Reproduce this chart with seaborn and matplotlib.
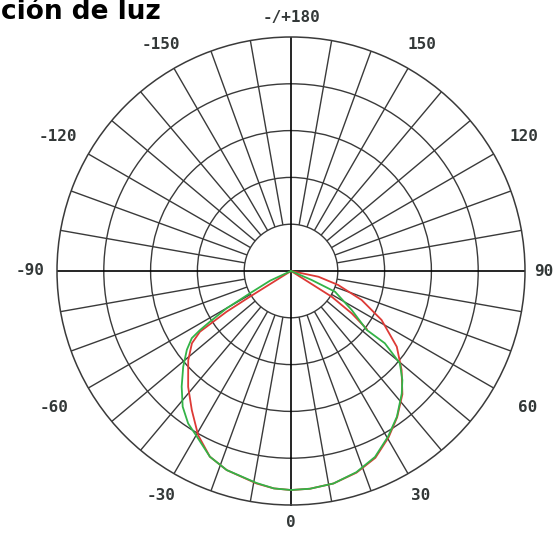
import numpy as np
import pandas as pd
import seaborn as sns
import matplotlib.pyplot as plt


sns.set_theme(style="white")

plt.rcParams["font.family"] = ["DejaVu Sans"]


# -----------------------------------
# Data (intensity, ring units 0..5)
# -----------------------------------

green_deg = [-66, -65.2, -61.5, -59.9, -58, -57, -55.9, -52.9, -48.4, -43.4,
             -38.6, -34, -29.6, -23.6, -17.9, -9.2, -4.5, 0, 5, 11.3, 18,
             24.3, 30.4, 36, 42.1, 45.6, 49.7, 52.4, 52.1, 57.3, 64.8, 66.5,
             68]
green_r = [0, 0.49, 1.0, 1.59, 2.04, 2.32, 2.56, 2.79, 3.08, 3.40,
           3.71, 3.93, 4.07, 4.33, 4.47, 4.59, 4.66, 4.68, 4.67, 4.63, 4.52,
           4.36, 4.10, 3.85, 3.53, 3.33, 3.05, 2.53, 2.05, 1.54, 1.04, 0.48,
           0]

red_deg = [-58.5, -58, -57.7, -56.3, -53.9, -49, -41.6, -35.5, -29.5, -23.6,
           -17.9, -9.2, -4.5, 0, 5, 11.3, 18, 24.3, 30.4, 36, 42.1, 48.2,
           54.4, 61.6, 67.7, 73.5, 78.2, 80]
red_r = [0, 1.03, 1.63, 2.34, 2.62, 2.91, 3.31, 3.65, 4.03, 4.33,
         4.47, 4.60, 4.66, 4.68, 4.67, 4.63, 4.53, 4.38, 4.12, 3.86, 3.55,
         3.17, 2.78, 2.20, 1.63, 1.05, 0.60, 0]

red_inner_deg = [59, 57.7, 55.1, 52.5]
red_inner_r = [0, 1.03, 1.58, 2.05]

ring_values = [1, 2, 3, 4]
r_max = 5

angle_labels = ["-/+180", "-150", "150", "-120", "120", "-90", "90",
                "-60", "60", "-30", "30", "0"]
angle_label_deg = [180, -150, 150, -120, 120, -90, 90, -60, 60, -30, 30, 0]

# label distance from centre (layout only)
label_dist = [5.41, 5.58, 5.58, 5.75, 5.75, 5.58, 5.41,
              5.85, 5.85, 5.55, 5.55, 5.38]


GRID = "#3a3a3a"
TXT = "#333838"

fig = plt.figure(figsize=(5.55, 5.33), dpi=100)

ax = fig.add_axes(
    [57 / 555, 28 / 533, 468 / 555, 468 / 533],
    projection="polar"
)

ax.set_theta_zero_location("S")
ax.set_theta_direction(1)
ax.set_ylim(0, r_max)

# rings
ax.set_xticks([])
ax.set_yticks(ring_values)
ax.set_yticklabels([])
ax.yaxis.grid(True, color=GRID, linewidth=1.0)
ax.spines["polar"].set_color(GRID)
ax.spines["polar"].set_linewidth(1.1)

# radial lines every 10 degrees, from first ring outwards
spokes = np.deg2rad([a for a in range(0, 360, 10) if a % 90 != 0])
ax.vlines(spokes, 1, r_max, colors=GRID, linewidth=1.0, zorder=1)

# main axes through the centre
ax.vlines(np.deg2rad([0, 90, 180, 270]), 0, r_max,
          colors="black", linewidth=1.2, zorder=2)


# -----------------------------------
# Curves
# -----------------------------------

curves = [
    (red_deg, red_r, "#dd3a36"),
    (red_inner_deg, red_inner_r, "#dd3a36"),
    (green_deg, green_r, "#33b347"),
]

for deg, rad, col in curves:

    df = pd.DataFrame({
        "theta": np.deg2rad(deg),
        "r": rad
    })

    sns.lineplot(
        data=df,
        x="theta",
        y="r",
        sort=False,
        estimator=None,
        color=col,
        linewidth=1.3,
        ax=ax,
        zorder=3
    )

ax.set_xlabel("")
ax.set_ylabel("")
ax.set_ylim(0, r_max)

# angle labels
for lab, a, d in zip(angle_labels, angle_label_deg, label_dist):

    ax.text(
        np.deg2rad(a), d, lab,
        ha="center", va="center",
        fontsize=11.5, fontweight="bold",
        family="DejaVu Sans Mono",
        color=TXT, clip_on=False
    )

# title (visible part of the source heading)
fig.text(
    1 / 555, 1 - 19 / 533,
    "ción de luz",
    ha="left", va="baseline",
    fontsize=19, fontweight="bold",
    color="black"
)

fig.savefig("out.png", dpi=100)
plt.close(fig)
